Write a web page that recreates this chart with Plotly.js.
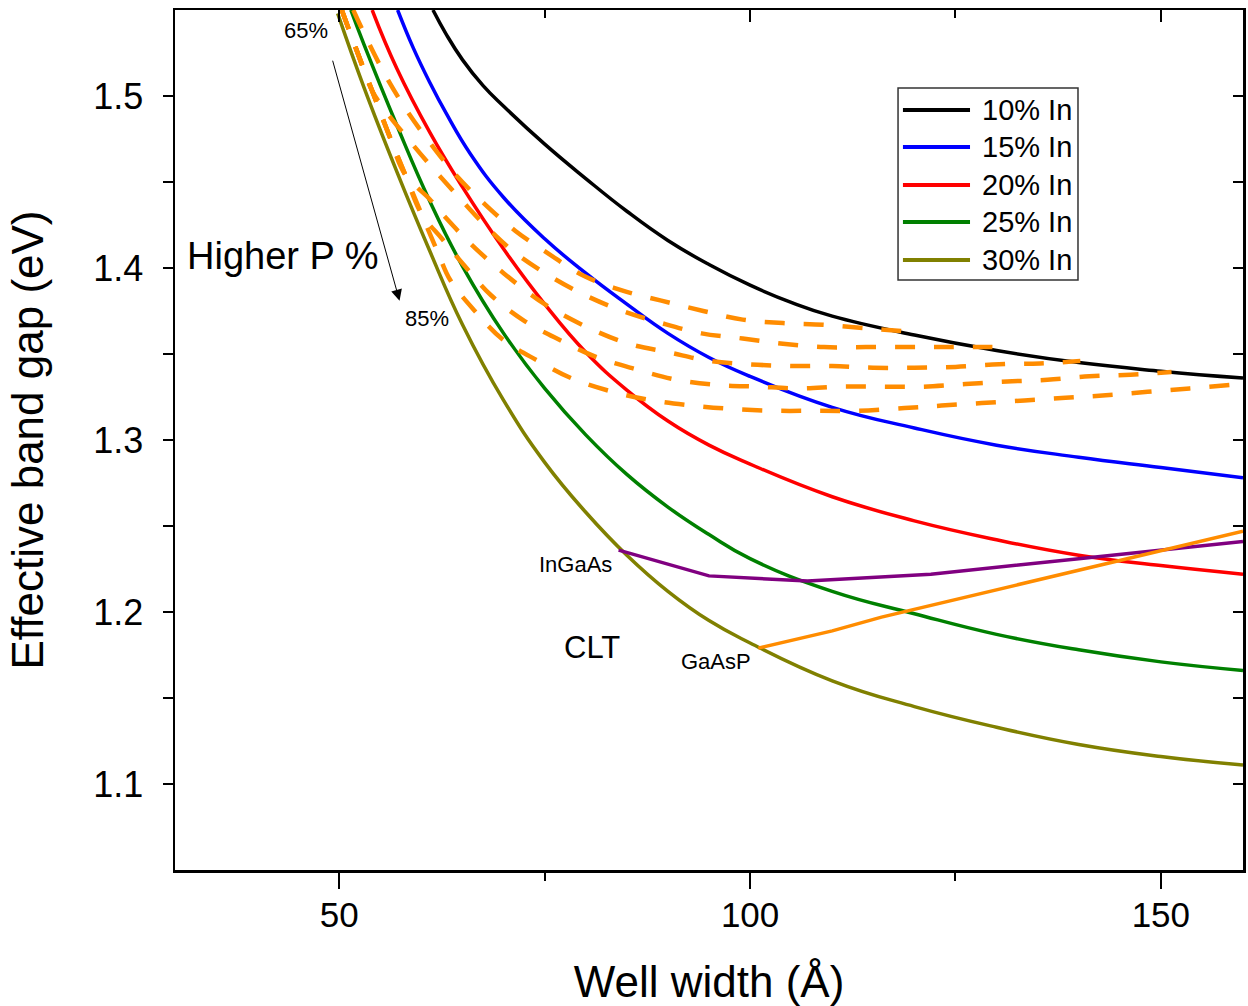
<!DOCTYPE html>
<html>
<head>
<meta charset="utf-8">
<script src="https://cdn.plot.ly/plotly-3.0.1.min.js"></script>
<style>html,body{margin:0;padding:0;background:#fff;}</style>
</head>
<body>
<div id="chart" style="width:1248px;height:1006px;"></div>
<script>
// ---- Data ----
const xIn10 = [61.4, 63, 65, 67.5, 70, 75, 80, 85, 90, 95, 100, 105, 110, 120, 130, 140, 150, 160];
const yIn10 = [1.55, 1.536, 1.521, 1.506, 1.494, 1.472, 1.452, 1.433, 1.416, 1.402, 1.390, 1.380, 1.372, 1.361, 1.352, 1.345, 1.340, 1.336];

const xIn15 = [57.1, 59, 61, 63, 66, 70, 75, 80, 85, 90, 95, 100, 110, 120, 130, 140, 150, 160];
const yIn15 = [1.55, 1.528, 1.508, 1.490, 1.466, 1.441, 1.417, 1.397, 1.379, 1.362, 1.348, 1.337, 1.319, 1.307, 1.297, 1.290, 1.284, 1.278];

const xIn20 = [54.0, 57, 61, 65, 70, 75, 80, 85, 90, 95, 100, 110, 120, 130, 140, 150, 160];
const yIn20 = [1.55, 1.516, 1.479, 1.447, 1.411, 1.379, 1.351, 1.329, 1.311, 1.297, 1.286, 1.267, 1.253, 1.242, 1.233, 1.227, 1.222];

const xIn25 = [51.4, 53, 57, 61, 65, 70, 75, 80, 85, 90, 95, 100, 110, 120, 130, 140, 150, 160];
const yIn25 = [1.55, 1.530, 1.483, 1.439, 1.401, 1.362, 1.330, 1.303, 1.280, 1.261, 1.245, 1.231, 1.212, 1.199, 1.187, 1.178, 1.171, 1.166];

const xIn30 = [49.8, 53, 57, 61, 65, 70, 75, 80, 85, 90, 95, 100, 110, 120, 130, 140, 150, 160];
const yIn30 = [1.548, 1.505, 1.456, 1.410, 1.367, 1.323, 1.287, 1.258, 1.233, 1.212, 1.195, 1.182, 1.160, 1.145, 1.133, 1.123, 1.116, 1.111];

// dashed iso-P curves, 65% ... 85% P
const xP65 = [51.7, 53.26, 55.5, 58.15, 61.0, 64.27, 67.7, 71.4, 75.5, 79.8, 84.4, 89.2, 94.3, 99.1, 104, 109, 114.1, 119.3];
const yP65 = [1.55, 1.534, 1.513, 1.492, 1.473, 1.4536, 1.4372, 1.4217, 1.4082, 1.3953, 1.387, 1.381, 1.375, 1.370, 1.368, 1.367, 1.365, 1.363];

const xP70 = [50.3, 52, 54, 56, 58.2, 61.2, 64.4, 67.7, 71.1, 75.4, 80, 84.5, 89.2, 94.1, 99.1, 104, 109, 114.1, 119.3, 124.3, 129.5];
const yP70 = [1.55, 1.528, 1.503, 1.489, 1.476, 1.459, 1.442, 1.425, 1.410, 1.396, 1.384, 1.375, 1.368, 1.362, 1.359, 1.356, 1.354, 1.354, 1.354, 1.354, 1.354];

const xP75 = [50.3, 52, 54, 56, 58, 61, 63, 66, 70, 75, 80, 85.2, 90.1, 95, 99.9, 105, 110, 115, 120, 125, 130.3, 135.3, 140.2];
const yP75 = [1.55, 1.528, 1.503, 1.478, 1.4545, 1.440, 1.429, 1.414, 1.397, 1.379, 1.366, 1.356, 1.351, 1.346, 1.344, 1.343, 1.343, 1.342, 1.342, 1.3425, 1.344, 1.3445, 1.346];

const xP80 = [50.3, 52, 54, 56, 58, 60, 62.5, 65.3, 68.5, 72.6, 76.9, 81.4, 86.2, 91.1, 96.1, 101, 106, 111, 116.1, 121.1, 126.2, 131.3, 136.2, 141.3, 146.3, 151.3];
const yP80 = [1.55, 1.528, 1.503, 1.478, 1.4545, 1.4315, 1.417, 1.401, 1.384, 1.369, 1.358, 1.348, 1.341, 1.335, 1.332, 1.331, 1.330, 1.331, 1.331, 1.331, 1.3325, 1.334, 1.335, 1.337, 1.338, 1.3395];

const xP85 = [50.3, 52, 54, 56, 58, 60, 62, 63.5, 66.5, 70, 74.2, 78.2, 83.3, 88.1, 93, 98, 103.2, 108.1, 113.2, 118.8, 123.3, 128.2, 133.4, 138.4, 143.3, 148.4, 153.5, 158.4, 160];
const yP85 = [1.55, 1.528, 1.503, 1.478, 1.4545, 1.4315, 1.409, 1.393, 1.375, 1.358, 1.346, 1.336, 1.328, 1.323, 1.320, 1.318, 1.317, 1.317, 1.317, 1.3186, 1.320, 1.3215, 1.323, 1.3245, 1.326, 1.328, 1.330, 1.332, 1.3325];

// CLT lines
const xInGaAs = [84, 95, 107, 122, 140, 160];
const yInGaAs = [1.236, 1.221, 1.218, 1.222, 1.231, 1.241];
const xGaAsP = [101, 110, 116, 132, 145, 160];
const yGaAsP = [1.179, 1.189, 1.197, 1.215, 1.230, 1.247];

const seriesNames = ['10% In', '15% In', '20% In', '25% In', '30% In'];
const xTicks = [50, 100, 150];
const xMinorTicks = [75, 125];
const yTicks = [1.1, 1.2, 1.3, 1.4, 1.5];
const yMinorTicks = [1.15, 1.25, 1.35, 1.45];

// ---- Traces ----
const inColors = ['#000000', '#0000ff', '#ff0000', '#008000', '#808000'];
const inX = [xIn10, xIn15, xIn20, xIn25, xIn30];
const inY = [yIn10, yIn15, yIn20, yIn25, yIn30];
const traces = [];
for (let i = 0; i < 5; i++) {
  traces.push({
    x: inX[i], y: inY[i], name: seriesNames[i], type: 'scatter', mode: 'lines',
    line: {color: inColors[i], width: 3.5, shape: 'spline', smoothing: 1.3},
    showlegend: false, hoverinfo: 'skip'
  });
}
const pX = [xP65, xP70, xP75, xP80, xP85];
const pY = [yP65, yP70, yP75, yP80, yP85];
for (let i = 0; i < 5; i++) {
  traces.push({
    x: pX[i], y: pY[i], type: 'scatter', mode: 'lines',
    line: {color: '#ff8c00', width: 4.5, dash: '20px,19px', shape: 'spline', smoothing: 1.0},
    showlegend: false, hoverinfo: 'skip'
  });
}
traces.push({x: xInGaAs, y: yInGaAs, type: 'scatter', mode: 'lines',
  line: {color: '#800080', width: 3.5}, showlegend: false, hoverinfo: 'skip'});
traces.push({x: xGaAsP, y: yGaAsP, type: 'scatter', mode: 'lines',
  line: {color: '#ff8c00', width: 3.5}, showlegend: false, hoverinfo: 'skip'});
// empty trace hosting the mirrored (inward) tick axes
traces.push({x: [], y: [], xaxis: 'x2', yaxis: 'y2', type: 'scatter', mode: 'lines', showlegend: false, hoverinfo: 'skip'});

const font = 'Liberation Sans, Arial, Helvetica, sans-serif';

// ---- Legend box (drawn in paper coordinates) ----
const legX0 = 0.677, legX1 = 0.8455, legY0 = 0.686, legY1 = 0.9093;
const legLineX0 = 0.6816, legLineX1 = 0.7444, legTextX = 0.7537;
const legRowY = [0.8837, 0.8407, 0.7965, 0.7535, 0.7093];
const shapes = [{type: 'rect', xref: 'paper', yref: 'paper', x0: legX0, x1: legX1, y0: legY0, y1: legY1,
  line: {color: '#333333', width: 1.5}, fillcolor: 'rgba(255,255,255,0)', layer: 'above'}];
const annotations = [];
for (let i = 0; i < 5; i++) {
  shapes.push({type: 'line', xref: 'paper', yref: 'paper', x0: legLineX0, x1: legLineX1, y0: legRowY[i], y1: legRowY[i],
    line: {color: inColors[i], width: 4}, layer: 'above'});
  annotations.push({xref: 'paper', yref: 'paper', x: legTextX, y: legRowY[i], xanchor: 'left', yanchor: 'middle',
    text: seriesNames[i], showarrow: false, font: {size: 29, family: font, color: '#000'}});
}

annotations.push(
  {x: 45.97, y: 1.5383, xref: 'x', yref: 'y', text: '65%', showarrow: false, font: {size: 22, family: font}},
  {x: 60.64, y: 1.3707, xref: 'x', yref: 'y', text: '85%', showarrow: false, font: {size: 22, family: font}},
  {x: 43.15, y: 1.4072, xref: 'x', yref: 'y', text: 'Higher P %', showarrow: false, font: {size: 38, family: font}},
  {x: 78.73, y: 1.2275, xref: 'x', yref: 'y', text: 'InGaAs', showarrow: false, font: {size: 22, family: font}},
  {x: 80.8, y: 1.1794, xref: 'x', yref: 'y', text: 'CLT', showarrow: false, font: {size: 31, family: font}},
  {x: 95.84, y: 1.1713, xref: 'x', yref: 'y', text: 'GaAsP', showarrow: false, font: {size: 22, family: font}},
  {x: 57.33, y: 1.381, ax: 49.14, ay: 1.5214, xref: 'x', yref: 'y', axref: 'x', ayref: 'y',
   text: '', showarrow: true, arrowhead: 2, arrowsize: 2.2, arrowwidth: 1, arrowcolor: '#000', standoff: 0, startstandoff: 0}
);

const layout = {
  width: 1248, height: 1006,
  margin: {l: 175, r: 5, t: 10, b: 136},
  paper_bgcolor: '#ffffff', plot_bgcolor: '#ffffff',
  font: {family: font, color: '#000000'},
  showlegend: false,
  xaxis: {
    range: [30, 160], tickmode: 'array', tickvals: xTicks,
    ticks: 'outside', ticklen: 16, tickwidth: 2, tickcolor: '#000',
    minor: {tickmode: 'array', tickvals: xMinorTicks, ticks: 'outside', ticklen: 8, tickwidth: 2, tickcolor: '#000', showgrid: false},
    showline: true, linewidth: 2.5, linecolor: '#000', mirror: true,
    showgrid: false, zeroline: false,
    tickfont: {size: 35, family: font}, ticklabelstandoff: -4,
    title: {text: 'Well width (Å)', font: {size: 44, family: font}, standoff: 37}
  },
  yaxis: {
    range: [1.05, 1.55], tickmode: 'array', tickvals: yTicks,
    ticktext: yTicks.map(v => v.toFixed(1)),
    ticks: 'outside', ticklen: 10, tickwidth: 2, tickcolor: '#000',
    minor: {tickmode: 'array', tickvals: yMinorTicks, ticks: 'outside', ticklen: 10, tickwidth: 2, tickcolor: '#000', showgrid: false},
    showline: true, linewidth: 2.5, linecolor: '#000', mirror: true,
    showgrid: false, zeroline: false,
    tickfont: {size: 36, family: font}, ticklabelstandoff: 12,
    title: {text: 'Effective band gap (eV)', font: {size: 44, family: font}, standoff: 36}
  },
  xaxis2: {
    overlaying: 'x', side: 'top', anchor: 'y2', range: [30, 160],
    tickmode: 'array', tickvals: xTicks, ticks: 'inside', ticklen: 12, tickwidth: 2, tickcolor: '#000',
    minor: {tickmode: 'array', tickvals: xMinorTicks, ticks: 'inside', ticklen: 8, tickwidth: 2, tickcolor: '#000', showgrid: false},
    showticklabels: false, showline: false, showgrid: false, zeroline: false
  },
  yaxis2: {
    overlaying: 'y', side: 'right', anchor: 'x2', range: [1.05, 1.55],
    tickmode: 'array', tickvals: yTicks, ticks: 'inside', ticklen: 10, tickwidth: 2, tickcolor: '#000',
    minor: {tickmode: 'array', tickvals: yMinorTicks, ticks: 'inside', ticklen: 10, tickwidth: 2, tickcolor: '#000', showgrid: false},
    showticklabels: false, showline: false, showgrid: false, zeroline: false
  },
  shapes: shapes,
  annotations: annotations
};

Plotly.newPlot('chart', traces, layout, {displayModeBar: false, staticPlot: true});
</script>
</body>
</html>
